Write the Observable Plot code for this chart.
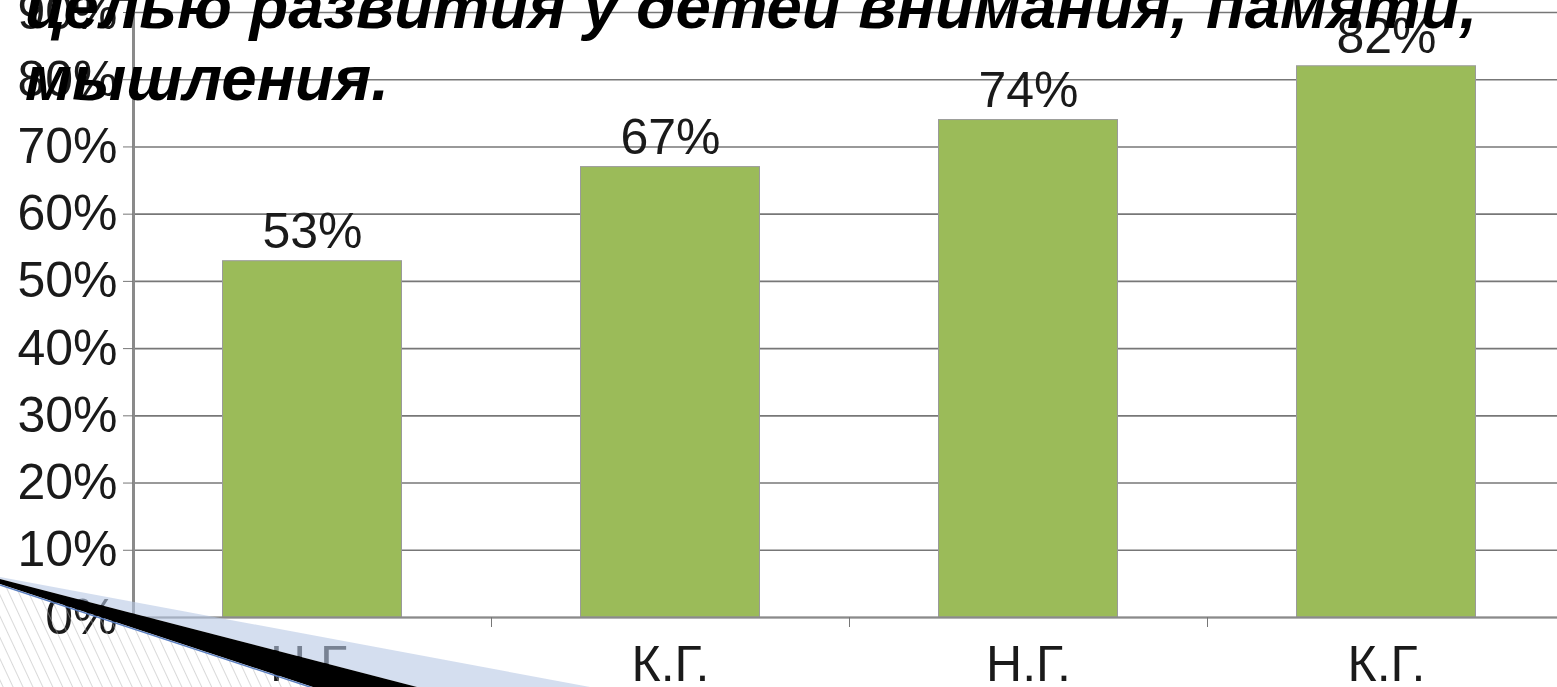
<!DOCTYPE html>
<html>
<head>
<meta charset="utf-8">
<script src="https://cdn.jsdelivr.net/npm/d3@7"></script>
<script src="https://cdn.jsdelivr.net/npm/@observablehq/plot@0.6"></script>
<style>
  html, body { margin: 0; padding: 0; background: #fff; }
  #wrap { position: relative; width: 1557px; height: 687px; overflow: hidden; background: #fff; }
  #chart { position: absolute; left: 0; top: 0; }
  #title {
    position: absolute; left: 25px; top: -30px;
    font-family: "Liberation Sans", Arial, sans-serif;
    font-weight: bold; font-style: italic;
    font-size: 63.5px; line-height: 72px; color: #000;
    white-space: nowrap; pointer-events: none;
  }
  #deco { position: absolute; left: 0; top: 0; pointer-events: none; }
</style>
</head>
<body>
<div id="wrap">
  <div id="chart"></div>
  <svg id="deco" width="1557" height="687" viewBox="0 0 1557 687">
    <defs>
      <pattern id="hatch" width="9" height="9" patternUnits="userSpaceOnUse" patternTransform="rotate(-25)">
        <line x1="0" y1="0" x2="0" y2="9" stroke="#b4b4b4" stroke-width="1"/>
      </pattern>
    </defs>
    <polygon points="0,577 590,687 417,687 0,579" fill="#b8c8e4" fill-opacity="0.6"/>
    <polygon points="0,584 313,687 0,687" fill="url(#hatch)"/>
    <polygon points="0,579 417,687 313,687 0,584" fill="#000"/>
    <line x1="0" y1="585" x2="313" y2="688" stroke="#5b7fc0" stroke-width="1.5"/>
  </svg>
  <div id="title"></div>
</div>
<script>
// Data
const categories = ["Н.Г.", "К.Г.", "Н.Г.", "К.Г."];
const values = [0.53, 0.67, 0.74, 0.82];
const yTicks = [0, 0.1, 0.2, 0.3, 0.4, 0.5, 0.6, 0.7, 0.8, 0.9];
const titleLines = ["целью развития у детей внимания, памяти,", "мышления."];

const data = categories.map((c, i) => ({ i, c, v: values[i] }));
const pct = d3.format(".0%");

const titleEl = document.getElementById("title");
titleLines.forEach((t, k) => {
  if (k) titleEl.appendChild(document.createElement("br"));
  titleEl.appendChild(document.createTextNode(t));
});

const chart = Plot.plot({
  width: 1557,
  height: 687,
  marginLeft: 133,
  marginRight: 0,
  marginTop: 0,
  marginBottom: 70,
  style: { fontFamily: "'Liberation Sans', Arial, sans-serif", background: "white", color: "#1a1a1a" },
  x: { type: "linear", domain: [0, 4], range: [133, 1565], label: null },
  y: { domain: [0, 0.9], range: [617, 12], label: null },
  marks: [
    Plot.ruleY(yTicks, { stroke: "#777", strokeWidth: 1.6 }),
    Plot.rectY(data, { x1: d => d.i + 0.25, x2: d => d.i + 0.75, y: "v", fill: "#9bbb59", stroke: "#9a9a9a", strokeWidth: 1 }),
    Plot.frame({ anchor: "left", stroke: "#8a8a8a", strokeWidth: 3 }),
    Plot.ruleY([0], { stroke: "#8a8a8a", strokeWidth: 2 }),
    Plot.axisY({ ticks: yTicks, tickFormat: pct, tickSize: 10, tickPadding: 6, fontSize: 50, stroke: "#777", fill: "#1a1a1a", label: null }),
    Plot.axisX({ ticks: [0, 1, 2, 3, 4], tickFormat: () => "", tickSize: 10, stroke: "#777", label: null }),
    Plot.axisX({ ticks: [0.5, 1.5, 2.5, 3.5], tickFormat: d => categories[Math.floor(d)], tickSize: 0, tickPadding: 28, fontSize: 50, fill: "#1a1a1a", label: null }),
    Plot.text(data, { x: d => d.i + 0.5, y: "v", text: d => pct(d.v), lineAnchor: "bottom", dy: -13, fontSize: 50, fill: "#1a1a1a" })
  ]
});
document.getElementById("chart").appendChild(chart);
</script>
</body>
</html>
